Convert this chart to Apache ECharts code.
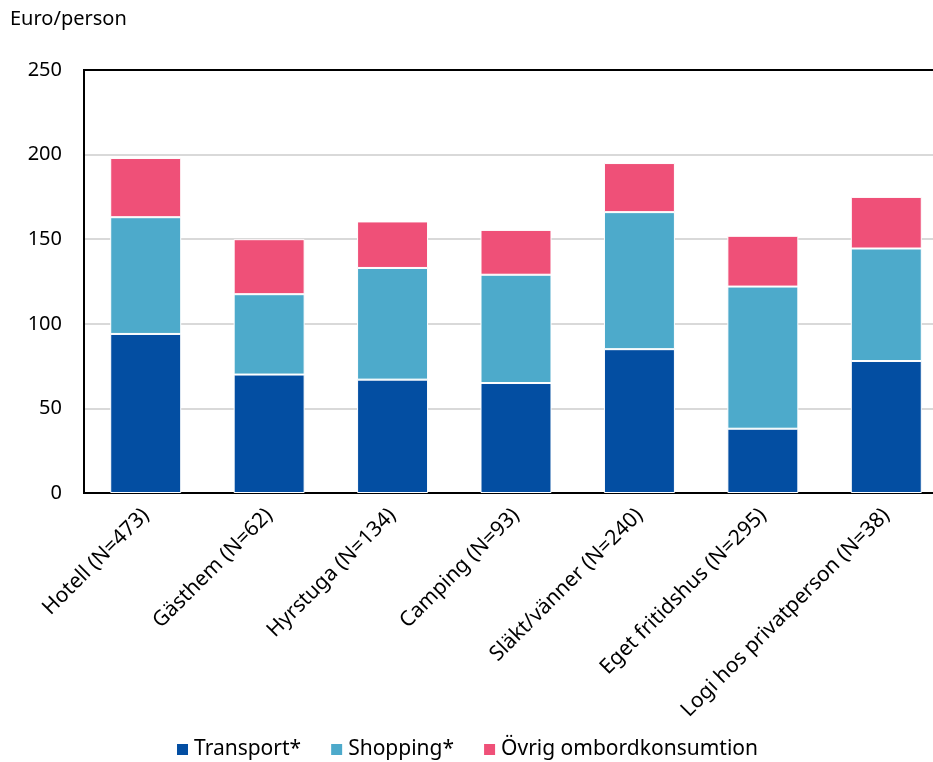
<!DOCTYPE html>
<html>
<head>
<meta charset="utf-8">
<script src="https://cdn.jsdelivr.net/npm/echarts@6/dist/echarts.min.js"></script>
<style>
  html, body { margin: 0; padding: 0; background: #fff; }
  #chart { width: 933px; height: 762px; }
</style>
</head>
<body>
<div id="chart"></div>
<script>
const categories = ['Hotell (N=473)', 'Gästhem (N=62)', 'Hyrstuga (N=134)', 'Camping (N=93)', 'Släkt/vänner (N=240)', 'Eget fritidshus (N=295)', 'Logi hos privatperson (N=38)']
const transport = [94, 70, 67, 65, 85, 38, 78]
const shopping = [69, 47.5, 66, 64, 81, 84, 66.5]
const ovrig = [35, 32.5, 27.5, 26.5, 29, 30, 30.5]
const seriesNames = ['Transport*', 'Shopping*', 'Övrig ombordkonsumtion']
const yTicks = [0, 50, 100, 150, 200, 250]

const font = '"Noto Sans", "DejaVu Sans", sans-serif'
const colors = ['#034ea2', '#4daacb', '#ef5078']
const values = [transport, shopping, ovrig]

const myChart = echarts.init(document.getElementById('chart'))
const option = {
    animation: false,
    textStyle: { fontFamily: font },
    graphic: [{
        type: 'text',
        left: 10,
        top: 9,
        style: { text: 'Euro/person', fill: '#000', font: '20px ' + font }
    }],
    legend: {
        bottom: -3,
        left: 'center',
        itemWidth: 13,
        itemHeight: 13,
        itemGap: 28,
        icon: 'rect',
        textStyle: { fontSize: 21, color: '#000', fontFamily: font },
        data: seriesNames
    },
    grid: {
        left: 84,
        top: 70,
        width: 864,
        bottom: 269,
        outerBoundsMode: 'none',
        containLabel: false,
        show: true,
        borderColor: '#000',
        borderWidth: 2
    },
    xAxis: {
        type: 'category',
        data: categories,
        axisLine: { lineStyle: { color: '#000', width: 2 } },
        axisTick: { show: false },
        axisLabel: {
            rotate: 45,
            interval: 0,
            margin: 19,
            fontSize: 21,
            color: '#000',
            fontFamily: font
        }
    },
    yAxis: {
        type: 'value',
        min: yTicks[0],
        max: yTicks[yTicks.length - 1],
        interval: 50,
        axisLine: { show: true, lineStyle: { color: '#000', width: 2 } },
        axisTick: { show: false },
        axisLabel: { fontSize: 20, color: '#000', margin: 22, fontFamily: font },
        splitLine: { showMaxLine: false, lineStyle: { color: '#d9d9d9', width: 2 } }
    },
    series: seriesNames.map((name, i) => ({
        name: name,
        type: 'bar',
        stack: 'total',
        barWidth: '57.5%',
        itemStyle: { color: colors[i], borderColor: '#fff', borderWidth: 1 },
        data: values[i]
    }))
}
myChart.setOption(option)
</script>
</body>
</html>
